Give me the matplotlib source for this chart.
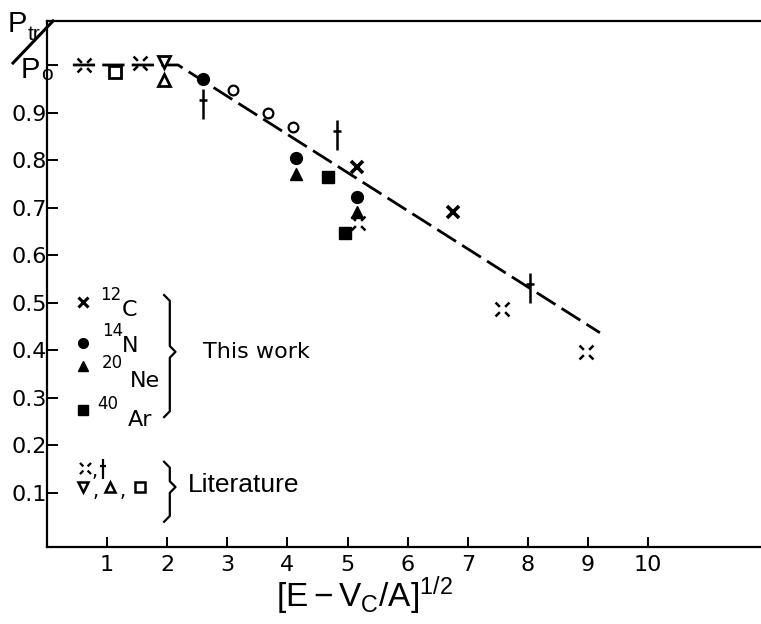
import matplotlib
matplotlib.use('Agg')
import matplotlib.pyplot as plt
from matplotlib.path import Path
from matplotlib.lines import Line2D
from matplotlib import font_manager

# ---- data: transmission probability vs [E - Vc/A]^(1/2) ----
c12_x = [5.15, 6.75]
c12_y = [0.786, 0.690]
n14_x = [2.60, 4.14, 5.15]
n14_y = [0.970, 0.805, 0.723]
ne20_x = [4.15, 5.15]
ne20_y = [0.770, 0.690]
ar40_x = [4.68, 4.96]
ar40_y = [0.765, 0.647]

# literature values
lit_cross_x = [0.62, 1.55, 5.17, 7.57, 8.97]
lit_cross_y = [1.000, 1.005, 0.668, 0.487, 0.397]
lit_dagger_x = [2.60, 4.83, 8.04]
lit_dagger_y = [0.918, 0.853, 0.531]
lit_circle_x = [3.10, 3.68, 4.10]
lit_circle_y = [0.947, 0.899, 0.870]
lit_tri_down_x = [1.95]
lit_tri_down_y = [1.006]
lit_tri_up_x = [1.95]
lit_tri_up_y = [0.968]
lit_square_x = [1.13]
lit_square_y = [0.985]

# dashed guide line
fit_x = [0.43, 2.18, 9.20]
fit_y = [1.000, 1.000, 0.437]

xticks = [1, 2, 3, 4, 5, 6, 7, 8, 9, 10]
yticks = [0.1, 0.2, 0.3, 0.4, 0.5, 0.6, 0.7, 0.8, 0.9, 1.0]
ytick_labels = ['0.1', '0.2', '0.3', '0.4', '0.5', '0.6', '0.7', '0.8', '0.9', '']

installed = {f.name for f in font_manager.fontManager.ttflist}
NARROW = 'Liberation Sans Narrow' if 'Liberation Sans Narrow' in installed else 'Liberation Sans'

plt.rcParams['mathtext.fontset'] = 'custom'
plt.rcParams['mathtext.rm'] = NARROW
plt.rcParams['mathtext.it'] = NARROW
plt.rcParams['mathtext.bf'] = NARROW

# custom marker shapes
MV, LT = Path.MOVETO, Path.LINETO
g = 0.38
split_x = Path([(-1, -1), (-g, -g), (g, g), (1, 1), (-1, 1), (-g, g), (g, -g), (1, -1)],
               [MV, LT, MV, LT, MV, LT, MV, LT])
dagger = Path([(0, -1), (0, 1), (-0.3, 0.25), (0.3, 0.25)], [MV, LT, MV, LT])

fig = plt.figure(figsize=(7.61, 6.24), dpi=100)
ax = fig.add_axes([47 / 761, 77 / 624, 714 / 761, 526 / 624])
ax.set_xlim(0, 11.88)
ax.set_ylim(-0.0135, 1.0925)

ax.plot(fit_x, fit_y, color='k', lw=2, dashes=(8, 2.6), zorder=1)

ax.plot(c12_x, c12_y, ls='none', marker='x', ms=8.5, mew=2.6, color='k', zorder=3)
ax.plot(n14_x, n14_y, ls='none', marker='o', ms=8.5, color='k', zorder=3)
ax.plot(ne20_x, ne20_y, ls='none', marker='^', ms=9, color='k', zorder=3)
ax.plot(ar40_x, ar40_y, ls='none', marker='s', ms=8, color='k', zorder=3)

ax.plot(lit_cross_x, lit_cross_y, ls='none', marker=split_x, ms=10, mew=1.8, color='k', zorder=3)
ax.plot(lit_dagger_x, lit_dagger_y, ls='none', marker=dagger, ms=21, mew=1.8, color='k', zorder=3)
ax.plot(lit_circle_x, lit_circle_y, ls='none', marker='o', ms=7, mew=1.6, mfc='white', mec='k', zorder=3)
ax.plot(lit_tri_down_x, lit_tri_down_y, ls='none', marker='v', ms=9, mew=2, mfc='white', mec='k', zorder=3)
ax.plot(lit_tri_up_x, lit_tri_up_y, ls='none', marker='^', ms=9, mew=2, mfc='white', mec='k', zorder=3)
ax.plot(lit_square_x, lit_square_y, ls='none', marker='s', ms=9, mew=2, mfc='white', mec='k', zorder=3)

# axes styling
ax.spines['right'].set_visible(False)
for s in ['left', 'bottom', 'top']:
    ax.spines[s].set_linewidth(1.6)
ax.set_xticks(xticks)
ax.set_xticklabels([str(t) for t in xticks])
ax.set_yticks(yticks)
ax.set_yticklabels(ytick_labels)
ax.tick_params(axis='both', direction='in', width=1.4, labelsize=16, colors='k')
ax.tick_params(axis='y', length=8, pad=0)
ax.tick_params(axis='x', length=7, pad=6)

ax.set_xlabel(r'$\mathrm{[E-V_C/A]^{1/2}}$', fontsize=24)
ax.xaxis.set_label_coords(0.445, -0.052)
ax.xaxis.label.set_va('top')

# P_tr / P_o label in the corner
fig.add_artist(Line2D([13 / 761, 53 / 761], [1 - 63 / 624, 1 - 21 / 624],
                      transform=fig.transFigure, color='k', lw=2.2))
fig.text(8 / 761, 1 - 32 / 624, 'P', fontsize=21, family=NARROW, va='baseline')
fig.text(28 / 761, 1 - 40 / 624, 'tr', fontsize=15, family=NARROW, va='baseline')
fig.text(21 / 761, 1 - 78 / 624, 'P', fontsize=21, family=NARROW, va='baseline')
fig.text(41 / 761, 1 - 80 / 624, 'o', fontsize=15, family=NARROW, va='baseline')

# hand-built key
tA = ax.transAxes
key_x = 0.050
ax.plot([key_x], [0.466], transform=tA, marker='x', ms=6.5, mew=2.2, color='k', ls='none')
ax.plot([key_x], [0.388], transform=tA, marker='o', ms=7, color='k', ls='none')
ax.plot([key_x], [0.344], transform=tA, marker='^', ms=7.5, color='k', ls='none')
ax.plot([key_x], [0.260], transform=tA, marker='s', ms=6.5, color='k', ls='none')

iso_rows = [('12', 'C', 0.074, 0.480, 0.104, 0.450),
            ('14', 'N', 0.077, 0.410, 0.105, 0.382),
            ('20', 'Ne', 0.077, 0.350, 0.116, 0.316),
            ('40', 'Ar', 0.071, 0.272, 0.113, 0.241)]
for mass, elem, mx, my, ex, ey in iso_rows:
    ax.text(mx, my, mass, transform=tA, fontsize=12, va='center', ha='left')
    ax.text(ex, ey, elem, transform=tA, fontsize=16, va='center', ha='left')


def brace(x, y0, y1, ym, w=0.008, d=0.011):
    xs = [x - w, x, x, x + w, x, x, x - w]
    ys = [y1, y1 - d, ym + d, ym, ym - d, y0 + d, y0]
    ax.plot(xs, ys, transform=tA, color='k', lw=1.6, clip_on=False)


brace(0.172, 0.247, 0.479, 0.371)
ax.text(0.218, 0.371, 'This work', transform=tA, fontsize=16, va='center', ha='left')

ax.plot([0.053], [0.150], transform=tA, marker=split_x, ms=8, mew=1.6, color='k', ls='none')
ax.plot([0.078], [0.148], transform=tA, marker=dagger, ms=15, mew=1.6, color='k', ls='none')
ax.plot([0.050], [0.114], transform=tA, marker='v', ms=7.5, mew=1.8, mfc='white', mec='k', ls='none')
ax.plot([0.088], [0.114], transform=tA, marker='^', ms=7.5, mew=1.8, mfc='white', mec='k', ls='none')
ax.plot([0.130], [0.114], transform=tA, marker='s', ms=7, mew=1.8, mfc='white', mec='k', ls='none')
for cx, cy in [(0.062, 0.143), (0.064, 0.106), (0.102, 0.106)]:
    ax.text(cx, cy, ',', transform=tA, fontsize=14, va='center', ha='left')

brace(0.172, 0.048, 0.162, 0.114)
ax.text(0.198, 0.118, 'Literature', transform=tA, fontsize=19, family=NARROW,
        va='center', ha='left')

fig.savefig('out.png', dpi=100, facecolor='white')
